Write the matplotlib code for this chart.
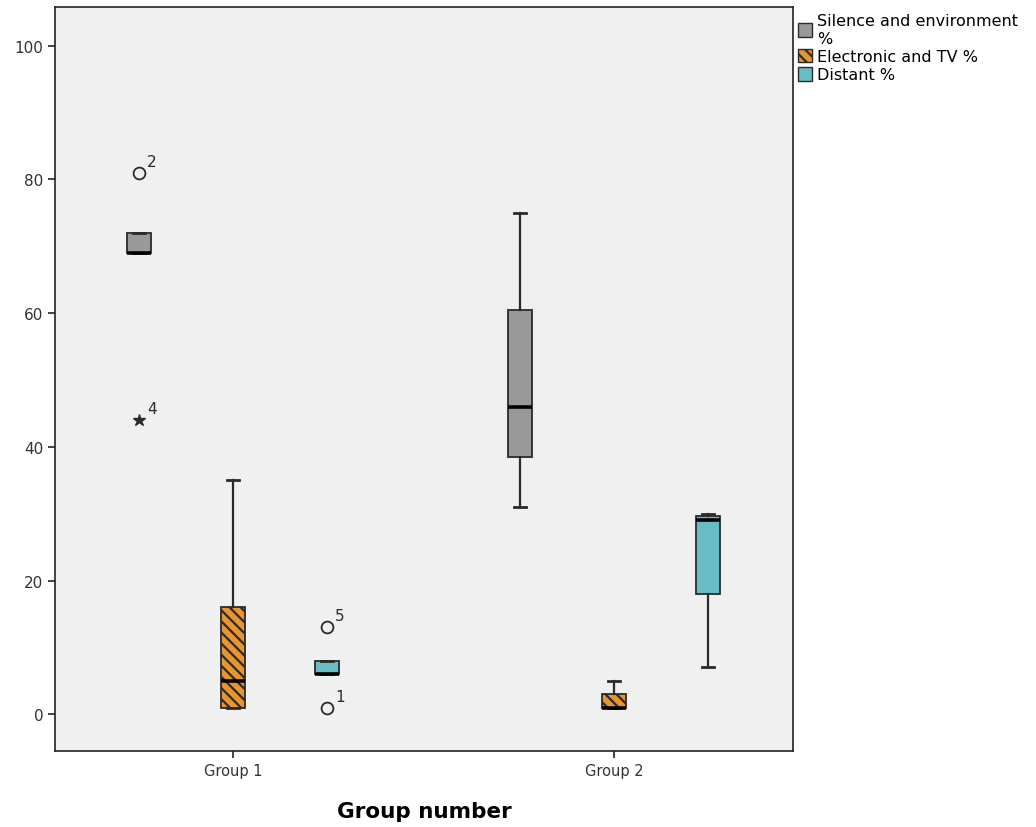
import matplotlib
matplotlib.use("Agg")
import matplotlib.pyplot as plt
from matplotlib.patches import Patch

plt.rcParams['font.family'] = ['DejaVu Sans']
plt.rcParams['hatch.linewidth'] = 1.6

groups = ["Group 1", "Group 2"]
series = ["Silence and environment\n%", "Electronic and TV %", "Distant %"]
colors = ["#999999", "#E8952F", "#68BCC4"]
hatches = ["", "\\\\\\", ""]

# five-number summaries [group][series]
whislo = [[69, 1, 6], [31, 1, 7]]
q1 = [[69, 1, 6], [38.5, 1, 18]]
med = [[69, 5, 6], [46, 1, 29]]
q3 = [[72, 16, 8], [60.5, 3, 29.6]]
whishi = [[72, 35, 8], [75, 5, 30]]

# outliers: group index, series index, value, case label, marker
out_group = [0, 0, 0, 0]
out_series = [0, 0, 2, 2]
out_value = [81, 44, 13, 1]
out_label = ["2", "4", "5", "1"]
out_marker = ["o", "*", "o", "o"]

offset = 0.247
width = 0.063

fig = plt.figure(figsize=(10.36, 8.28), dpi=100)
ax = fig.add_axes([0.0531, 0.0918, 0.7123, 0.8985])
ax.set_facecolor("#F0F0F0")

for g in range(len(groups)):
    for s in range(len(series)):
        pos = g + (s - 1) * offset
        stats = [dict(whislo=whislo[g][s], q1=q1[g][s], med=med[g][s],
                      q3=q3[g][s], whishi=whishi[g][s], fliers=[])]
        ax.bxp(stats, positions=[pos], widths=width, patch_artist=True,
               showfliers=False,
               boxprops=dict(facecolor=colors[s], edgecolor="#2a2a2a", linewidth=1.3,
                             hatch=hatches[s]),
               medianprops=dict(color="black", linewidth=2.6, solid_capstyle="butt"),
               whiskerprops=dict(color="#2a2a2a", linewidth=1.6),
               capprops=dict(color="#2a2a2a", linewidth=2.0),
               capwidths=width * 0.5)

for g, s, v, lab, m in zip(out_group, out_series, out_value, out_label, out_marker):
    pos = g + (s - 1) * offset
    if m == "o":
        ax.plot(pos, v, marker="o", markersize=8.5, markerfacecolor="none",
                markeredgecolor="#2a2a2a", markeredgewidth=1.3, linestyle="none")
    else:
        ax.plot(pos, v, marker="*", markersize=9, color="#2a2a2a", linestyle="none")
    ax.annotate(lab, (pos, v), xytext=(6, 5), textcoords="offset points",
                fontsize=11, color="#2a2a2a")

ax.set_xlim(-0.467, 1.47)
ax.set_ylim(-5.5, 105.8)
ax.set_xticks(range(len(groups)))
ax.set_xticklabels(groups, fontsize=10.5, color="#333333")
ax.set_yticks([0, 20, 40, 60, 80, 100])
ax.set_yticklabels(["0", "20", "40", "60", "80", "100"], fontsize=11, color="#333333")
ax.tick_params(axis="both", length=5, width=1.2, color="#222222")
for sp in ax.spines.values():
    sp.set_color("#222222")
    sp.set_linewidth(1.2)
ax.set_xlabel("Group number", fontsize=15.5, fontweight="bold", labelpad=17)

handles = [Patch(facecolor=colors[i], edgecolor="#2a2a2a", hatch=hatches[i], linewidth=1.0)
           for i in range(len(series))]
ax.legend(handles, series, loc="upper left", bbox_to_anchor=(0.998, 1.0),
          frameon=False, fontsize=11.5, handlelength=0.9, handleheight=0.9,
          handletextpad=0.3, labelspacing=0.2, borderaxespad=0.0)

fig.savefig("out.png", dpi=100)
